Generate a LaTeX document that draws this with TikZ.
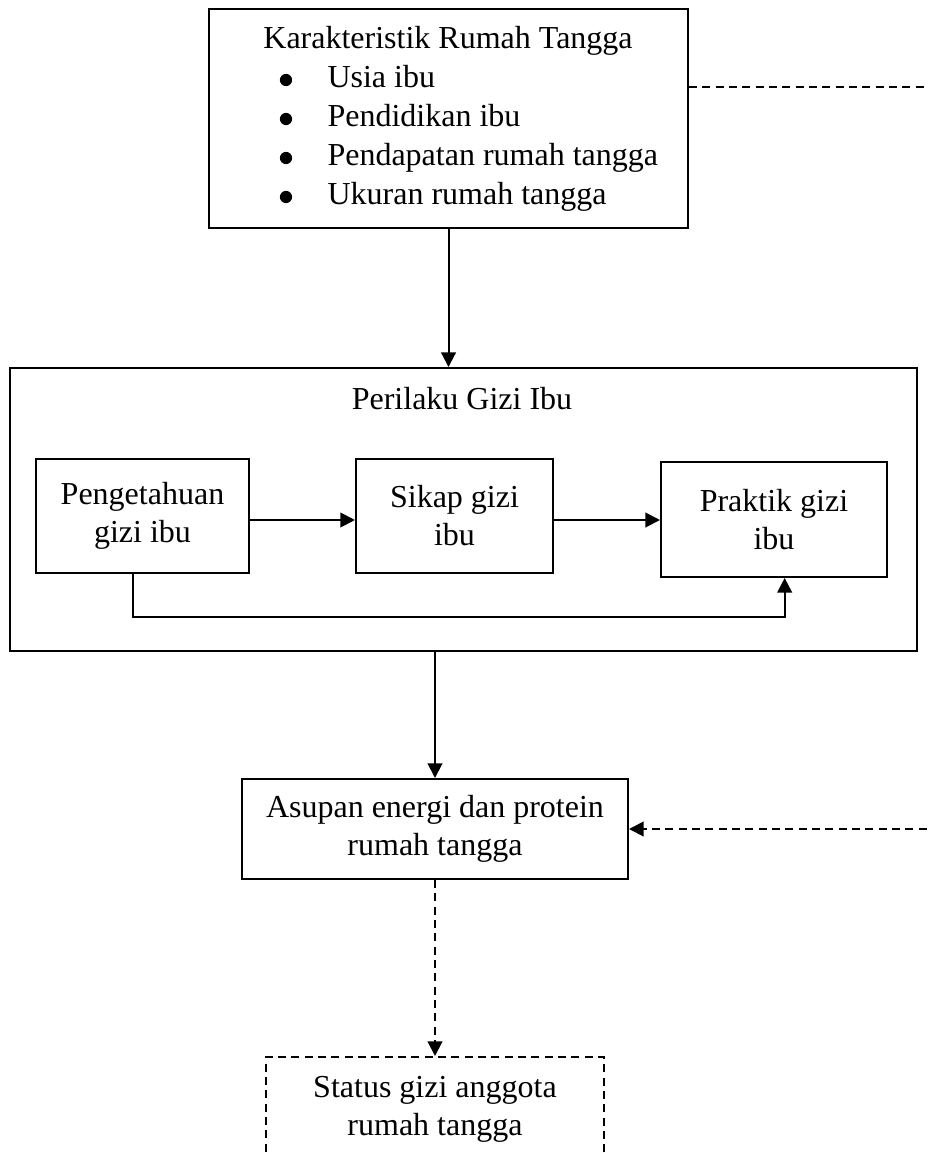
\documentclass[tikz,border=0pt]{standalone}
\usepackage{fontspec}
\setmainfont{Liberation Serif}
\usetikzlibrary{arrows.meta}

\begin{document}
\begin{tikzpicture}[x=0.375pt,y=-0.375pt,
  every node/.style={font=\fontsize{12}{14.25}\selectfont},
  box/.style={draw,line width=0.75pt,align=center,inner sep=0pt},
  dashbox/.style={box,dash pattern=on 3pt off 2pt},
  arrow/.style={line width=0.75pt,-{Triangle[length=5.5pt,width=5.5pt]}},
  dasharrow/.style={arrow,dash pattern=on 3pt off 2pt}]
\clip (0,0) rectangle (927,1153);
% The top box and its list
\node[box,minimum width=179.6pt,minimum height=82.1pt] (karakter) at (448.5,118.5) {};
\node[anchor=base] (judul1) at (448,48) {Karakteristik Rumah Tangga};
\foreach \isi [count=\i] in {Usia ibu,Pendidikan ibu,Pendapatan rumah tangga,Ukuran rumah tangga}
{
  \node[anchor=base west,inner sep=0pt] (butir\i) at (327,48+39*\i) {\isi};
  \fill (286,41+39*\i) circle (2.3pt);
}

% The boxes
\node[box,minimum width=340.1pt,minimum height=106.1pt] (perilaku) at (463.5,509.5) {};
\node (judul2) at (462,399) {Perilaku Gizi Ibu};
\node[box,minimum width=79.9pt,minimum height=42.75pt] (peng) at (142.5,516) {Pengetahuan\\gizi ibu};
\node[box,minimum width=73.9pt,minimum height=42.75pt] (sikap) at (454.5,516) {Sikap gizi\\ibu};
\node[box,minimum width=84.75pt,minimum height=43.1pt] (praktik) at (774,519.5) {Praktik gizi\\ibu};
\node[box,minimum width=144.75pt,minimum height=37.5pt] (asupan) at (435,829) {Asupan energi dan protein\\rumah tangga};
\node[dashbox,minimum width=126.75pt,minimum height=39pt] (status) at (435,1109) {Status gizi anggota\\rumah tangga};

% The arrows
\draw[arrow] (karakter.south) -- (karakter.south |- perilaku.north);
\draw[arrow] (peng.east |- 0,520) -- (sikap.west |- 0,520);
\draw[arrow] (sikap.east |- 0,520) -- (praktik.west |- 0,520);
\draw[arrow] ([xshift=-3.6pt]peng.south) -- ++(0,43) -| ([xshift=4pt]praktik.south);
\draw[arrow] (asupan.north |- perilaku.south) -- (asupan.north);
\draw[dasharrow] (asupan.south) -- (status.north);

% Dashed lines from the right edge
\coordinate (kanan1) at (940,87);
\coordinate (kanan2) at (940,829);
\draw[line width=0.75pt,dash pattern=on 3pt off 2pt] (kanan1 -| karakter.east) -- (kanan1);
\draw[dasharrow] (kanan2) -- (asupan.east);
\end{tikzpicture}
\end{document}
